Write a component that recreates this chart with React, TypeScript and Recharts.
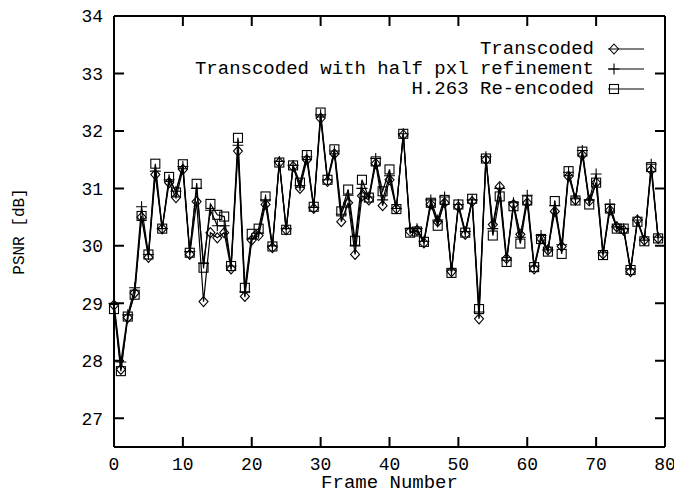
import React from "react";
import { LineChart, Line, XAxis, YAxis, Legend, ReferenceLine } from "recharts";

const frames = Array.from({ length: 80 }, (_, i) => i);

const transcoded = [
  28.97, 27.85, 28.75, 29.18, 30.5, 29.8, 31.24, 30.3, 31.1, 30.84,
  31.33, 29.85, 30.77, 29.03, 30.23, 30.14, 30.23, 29.6, 31.65, 29.12,
  30.1, 30.18, 30.72, 29.97, 31.45, 30.28, 31.38, 31.0, 31.5, 30.65,
  32.22, 31.12, 31.6, 30.42, 30.75, 29.85, 30.87, 30.8, 31.43, 30.7,
  31.15, 30.65, 31.93, 30.25, 30.27, 30.05, 30.72, 30.42, 30.75, 29.55,
  30.68, 30.2, 30.77, 28.73, 31.5, 30.37, 31.03, 29.78, 30.72, 30.2,
  30.75, 29.6, 30.12, 29.93, 30.6, 29.99, 31.21, 30.8, 31.58, 30.78,
  31.1, 29.86, 30.62, 30.33, 30.27, 29.55, 30.45, 30.1, 31.32, 30.13,
];

const halfPel = [
  29.0, 27.98, 28.8, 29.27, 30.68, 29.85, 31.3, 30.3, 31.15, 30.95,
  31.38, 29.9, 31.0, 29.7, 30.62, 30.35, 30.35, 29.65, 31.75, 29.2,
  30.12, 30.22, 30.8, 30.0, 31.47, 30.3, 31.4, 31.05, 31.55, 30.67,
  32.28, 31.15, 31.65, 30.55, 30.88, 30.0, 31.0, 30.85, 31.52, 30.8,
  31.22, 30.65, 31.95, 30.3, 30.3, 30.08, 30.8, 30.45, 30.85, 29.58,
  30.72, 30.25, 30.8, 28.85, 31.55, 30.3, 31.0, 29.75, 30.75, 30.15,
  30.88, 29.65, 30.18, 29.93, 30.7, 30.02, 31.28, 30.82, 31.66, 30.8,
  31.25, 29.88, 30.72, 30.33, 30.3, 29.6, 30.45, 30.1, 31.42, 30.15,
];

const reencoded = [
  28.9, 27.82, 28.77, 29.15, 30.52, 29.85, 31.43, 30.3, 31.2, 30.93,
  31.42, 29.88, 31.08, 29.62, 30.73, 30.54, 30.51, 29.65, 31.88, 29.27,
  30.21, 30.3, 30.86, 29.99, 31.45, 30.28, 31.4, 31.1, 31.58, 30.68,
  32.32, 31.15, 31.68, 30.6, 30.98, 30.09, 31.15, 30.84, 31.47, 30.95,
  31.33, 30.64, 31.95, 30.23, 30.25, 30.07, 30.75, 30.35, 30.8, 29.53,
  30.72, 30.23, 30.82, 28.9, 31.52, 30.18, 30.86, 29.72, 30.69, 30.04,
  30.79, 29.63, 30.12, 29.9, 30.78, 29.86, 31.3, 30.79, 31.64, 30.72,
  31.1, 29.84, 30.65, 30.3, 30.3, 29.58, 30.42, 30.08, 31.37, 30.13,
];

const xTicks = [0, 10, 20, 30, 40, 50, 60, 70, 80];
const yTicks = [27, 28, 29, 30, 31, 32, 33, 34];

const seriesNames = [
  "Transcoded",
  "Transcoded with half pxl refinement",
  "H.263 Re-encoded",
];

const data = frames.map((f, i) => ({
  frame: f,
  transcoded: transcoded[i],
  halfPel: halfPel[i],
  reencoded: reencoded[i],
}));

const FONT = "'Liberation Mono', 'DejaVu Sans Mono', monospace";
const INK = "#000";

const W = 674;
const H = 493;
const MARGIN = { top: 16, right: 9, bottom: 0, left: 0 };
const X_AXIS_H = 46;
const Y_AXIS_W = 114;
// plot frame edges, used for the inward tick marks
const PLOT_TOP = MARGIN.top;
const PLOT_BOTTOM = H - MARGIN.bottom - X_AXIS_H;
const PLOT_LEFT = MARGIN.left + Y_AXIS_W;
const PLOT_RIGHT = W - MARGIN.right;
const TICK_LEN = 10;

function diamond(cx: number, cy: number, key?: string) {
  return (
    <path
      key={key}
      d={`M${cx},${cy - 5}L${cx + 4.5},${cy}L${cx},${cy + 5}L${cx - 4.5},${cy}Z`}
      fill="none"
      stroke={INK}
      strokeWidth={1.1}
    />
  );
}

function plus(cx: number, cy: number, key?: string) {
  return (
    <path
      key={key}
      d={`M${cx - 5.5},${cy}H${cx + 5.5}M${cx},${cy - 5.5}V${cy + 5.5}`}
      fill="none"
      stroke={INK}
      strokeWidth={1.1}
    />
  );
}

function square(cx: number, cy: number, key?: string) {
  return (
    <rect
      key={key}
      x={cx - 4.5}
      y={cy - 4.5}
      width={9}
      height={9}
      fill="none"
      stroke={INK}
      strokeWidth={1.1}
    />
  );
}

const markers = [diamond, plus, square];

function KeyBox() {
  return (
    <div
      style={{
        fontFamily: FONT,
        fontSize: 19,
        lineHeight: "20px",
        color: INK,
        paddingRight: 28,
      }}
    >
      {seriesNames.map((name, i) => (
        <div
          key={name}
          style={{ display: "flex", justifyContent: "flex-end", alignItems: "center", height: 20 }}
        >
          <span>{name}</span>
          <svg width={46} height={20} style={{ marginLeft: 6 }}>
            <line x1={8} y1={10} x2={44} y2={10} stroke={INK} strokeWidth={1.2} />
            {markers[i](14, 10)}
          </svg>
        </div>
      ))}
    </div>
  );
}

// x tick: label below the axis plus inward marks on bottom and top edges
function FrameTick(props: any) {
  const { x, y, payload } = props;
  return (
    <g>
      <path
        d={`M${x},${PLOT_BOTTOM}V${PLOT_BOTTOM - TICK_LEN}M${x},${PLOT_TOP}V${PLOT_TOP + TICK_LEN}`}
        stroke={INK}
        strokeWidth={2}
        fill="none"
      />
      <text x={x} y={y} dy="0.71em" textAnchor="middle" fontFamily={FONT} fontSize={18} fill={INK}>
        {payload.value}
      </text>
    </g>
  );
}

// y tick: label left of the axis plus inward marks on left and right edges
function PsnrTick(props: any) {
  const { x, y, payload } = props;
  return (
    <g>
      <path
        d={`M${PLOT_LEFT},${y}H${PLOT_LEFT + TICK_LEN}M${PLOT_RIGHT},${y}H${PLOT_RIGHT - TICK_LEN}`}
        stroke={INK}
        strokeWidth={2}
        fill="none"
      />
      <text x={x} y={y} dy="0.355em" textAnchor="end" fontFamily={FONT} fontSize={18} fill={INK}>
        {payload.value}
      </text>
    </g>
  );
}

export default function App() {
  return (
    <div style={{ position: "absolute", left: 0, top: 0, background: "#fff" }}>
      <LineChart width={W} height={H} data={data} margin={MARGIN}>
        <XAxis
          dataKey="frame"
          type="number"
          domain={[0, 80]}
          ticks={xTicks}
          interval={0}
          height={X_AXIS_H}
          tickLine={false}
          tickSize={0}
          tickMargin={10}
          stroke={INK}
          strokeWidth={2}
          tick={FrameTick}
          label={{
            content: ({ viewBox }: any) => (
              <text
                x={viewBox.x + viewBox.width / 2}
                y={viewBox.y + 41}
                textAnchor="middle"
                fontFamily={FONT}
                fontSize={19}
                fill={INK}
              >
                Frame Number
              </text>
            ),
          }}
        />
        <YAxis
          type="number"
          domain={[26.5, 34]}
          ticks={yTicks}
          interval={0}
          width={Y_AXIS_W}
          tickLine={false}
          tickSize={0}
          tickMargin={11}
          stroke={INK}
          strokeWidth={2}
          tick={PsnrTick}
          label={{
            content: ({ viewBox }: any) => {
              const x = viewBox.x + 20;
              const y = viewBox.y + viewBox.height / 2;
              return (
                <text
                  x={x}
                  y={y}
                  transform={`rotate(-90, ${x}, ${y})`}
                  textAnchor="middle"
                  dominantBaseline="central"
                  fontFamily={FONT}
                  fontSize={16}
                  fill={INK}
                >
                  PSNR [dB]
                </text>
              );
            },
          }}
        />
        {/* closing edges of the plot frame */}
        <ReferenceLine y={34} stroke={INK} strokeWidth={2} />
        <ReferenceLine x={80} stroke={INK} strokeWidth={2} />
        <Legend
          layout="vertical"
          align="center"
          verticalAlign="middle"
          content={() => <KeyBox />}
          wrapperStyle={{ top: 39, left: 0, width: W }}
        />
        <Line
          dataKey="transcoded"
          stroke={INK}
          strokeWidth={1.2}
          isAnimationActive={false}
          dot={(p: any) => diamond(p.cx, p.cy, `d${p.index}`)}
          activeDot={false}
        />
        <Line
          dataKey="halfPel"
          stroke={INK}
          strokeWidth={1.2}
          isAnimationActive={false}
          dot={(p: any) => plus(p.cx, p.cy, `p${p.index}`)}
          activeDot={false}
        />
        <Line
          dataKey="reencoded"
          stroke={INK}
          strokeWidth={1.2}
          isAnimationActive={false}
          dot={(p: any) => square(p.cx, p.cy, `s${p.index}`)}
          activeDot={false}
        />
      </LineChart>
    </div>
  );
}
